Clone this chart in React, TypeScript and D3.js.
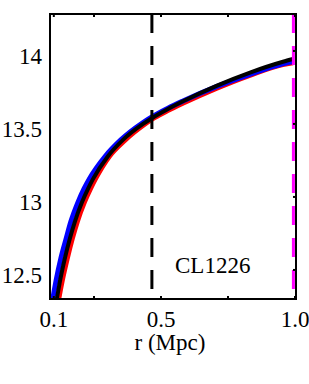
import React from "react";
import * as d3 from "d3";

const blackR = [0.093, 0.112, 0.123, 0.142, 0.160, 0.179, 0.205, 0.228, 0.246, 0.302, 0.358, 0.433, 0.463, 0.526, 0.582, 0.709, 0.832, 0.955, 0.993];
const blackV = [12.08, 12.308, 12.423, 12.585, 12.715, 12.833, 12.963, 13.057, 13.122, 13.279, 13.391, 13.500, 13.536, 13.602, 13.655, 13.763, 13.852, 13.926, 13.945];

const blueR = [0.080, 0.097, 0.108, 0.127, 0.146, 0.164, 0.190, 0.213, 0.232, 0.292, 0.350, 0.429, 0.463, 0.526, 0.582, 0.709, 0.832, 0.955, 0.993];
const blueV = [12.08, 12.308, 12.423, 12.585, 12.715, 12.833, 12.963, 13.057, 13.122, 13.279, 13.391, 13.505, 13.545, 13.608, 13.657, 13.757, 13.840, 13.912, 13.928];

const redR = [0.101, 0.121, 0.133, 0.153, 0.171, 0.190, 0.216, 0.239, 0.257, 0.310, 0.366, 0.440, 0.466, 0.526, 0.582, 0.709, 0.832, 0.955, 0.993];
const redV = [12.08, 12.308, 12.423, 12.585, 12.715, 12.833, 12.963, 13.057, 13.122, 13.279, 13.385, 13.495, 13.528, 13.588, 13.638, 13.742, 13.830, 13.903, 13.915];

const xTicks = [0.1, 0.25, 0.5, 0.75, 1.0];
const xLabels = [0.1, 0.5, 1.0];
const yTicks = [12.5, 13, 13.5, 14];
const vLines = [0.466, 0.994];
const vLineColors = ["#000000", "#ff00ff"];
const clusterName = "CL1226";
const xTitle = "r (Mpc)";

export default function App() {
  const L = 50, R = 296, T = 14, B = 299;
  const x = d3.scaleLinear().domain([0.0858, 1.0037]).range([L, R]);
  const y = d3.scaleLinear().domain([12.301, 14.253]).range([B, T]);
  const line = (rs: number[], vs: number[]) =>
    d3.line<number>().x((_, i) => x(rs[i])).y((_, i) => y(vs[i])).curve(d3.curveMonotoneX)(rs.map((_, i) => i)) || "";
  const textStyle = { fontFamily: "'Liberation Serif', 'Times New Roman', Times, 'DejaVu Serif', serif", fontSize: "23px" };
  const fmtX = (v: number) => (v === 1 ? "1.0" : String(v));
  return (
    <svg width={309} height={384} style={{ position: "absolute", left: 0, top: 0, background: "#fff" }}>
      <defs>
        <clipPath id="plot">
          <rect x={L} y={T} width={R - L} height={B - T} />
        </clipPath>
      </defs>
      <g clipPath="url(#plot)" fill="none">
        <path d={line(redR, redV)} stroke="#ff0000" strokeWidth={4} />
        <path d={line(blueR, blueV)} stroke="#0000ff" strokeWidth={5} />
        <path d={line(blackR, blackV)} stroke="#000000" strokeWidth={4} />
        {vLines.map((v, i) => (
          <line key={i} x1={x(v)} x2={x(v)} y1={T} y2={B} stroke={vLineColors[i]} strokeWidth={3} strokeDasharray="19,13" />
        ))}
      </g>
      {xTicks.map((t) => (
        <g key={t}>
          <line x1={x(t)} x2={x(t)} y1={B} y2={B - 3} stroke="#000" strokeWidth={2} />
          <line x1={x(t)} x2={x(t)} y1={T} y2={T + 3} stroke="#000" strokeWidth={2} />
        </g>
      ))}
      {yTicks.map((t) => (
        <g key={t}>
          <line x1={R} x2={R - 3} y1={y(t)} y2={y(t)} stroke="#000" strokeWidth={2} />
          <text x={42} y={y(t) + 13} textAnchor="end" style={textStyle}>
            {String(t)}
          </text>
        </g>
      ))}
      {xLabels.map((t) => (
        <text key={t} x={x(t)} y={327} textAnchor="middle" style={textStyle}>
          {fmtX(t)}
        </text>
      ))}
      <rect x={L} y={T} width={R - L} height={B - T} fill="none" stroke="#000" strokeWidth={2} />
      <text x={175} y={273} style={textStyle}>{clusterName}</text>
      <text x={170} y={350} textAnchor="middle" style={textStyle}>{xTitle}</text>
    </svg>
  );
}
